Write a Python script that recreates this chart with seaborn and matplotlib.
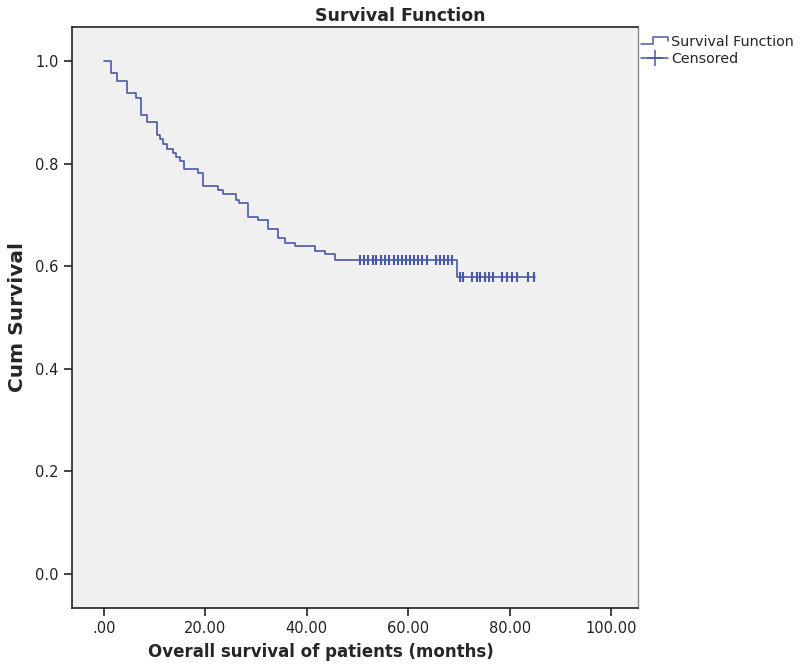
import numpy as np
import pandas as pd
import matplotlib
matplotlib.use("Agg")
import matplotlib.pyplot as plt
from matplotlib.lines import Line2D
from matplotlib.legend_handler import HandlerBase
import seaborn as sns

# --------------------
# DATA
# --------------------
event_times = [0.0, 1.3, 2.6, 4.6, 6.4, 7.3, 8.4, 10.4, 11.0, 11.7, 12.5, 13.7,
               14.3, 14.9, 15.8, 18.6, 19.6, 22.5, 23.5, 26.0, 26.7, 28.5, 30.4,
               32.4, 34.4, 35.7, 37.7, 41.6, 43.6, 45.6, 69.7, 85.0]
survival = [1.000, 0.976, 0.961, 0.937, 0.927, 0.895, 0.880, 0.856, 0.847, 0.838,
            0.828, 0.820, 0.812, 0.804, 0.789, 0.781, 0.756, 0.749, 0.740, 0.729,
            0.723, 0.696, 0.690, 0.672, 0.654, 0.646, 0.640, 0.630, 0.623, 0.612,
            0.579, 0.579]
censored_times = [50.5, 51.3, 52.1, 53.0, 53.7, 54.6, 55.5, 56.3, 57.1, 57.9, 58.7,
                  59.5, 60.4, 61.1, 61.9, 62.8, 63.6, 65.5, 66.3, 67.1, 67.9, 68.6,
                  70.2, 70.8, 72.5, 73.5, 74.2, 75.1, 75.9, 76.8, 78.5, 79.4, 80.5,
                  81.5, 83.7, 84.7]
x_ticks = [0, 20, 40, 60, 80, 100]
x_tick_labels = [".00", "20.00", "40.00", "60.00", "80.00", "100.00"]
y_ticks = [0.0, 0.2, 0.4, 0.6, 0.8, 1.0]

curve = pd.DataFrame({"time": event_times, "surv": survival})
# survival at each censored time = value of the step curve at that time
idx = np.searchsorted(event_times, censored_times, side="right") - 1
cens = pd.DataFrame({"time": censored_times,
                     "surv": [survival[i] for i in idx]})

line_color = "#4a58a8"


class HandlerStep(HandlerBase):
    def create_artists(self, legend, orig_handle, xdescent, ydescent,
                       width, height, fontsize, trans):
        x0, y0 = -xdescent, -ydescent
        xs = [x0, x0 + 0.45 * width, x0 + 0.45 * width, x0 + width, x0 + width]
        ys = [y0 + 0.2 * height, y0 + 0.2 * height, y0 + 0.85 * height,
              y0 + 0.85 * height, y0 + 0.45 * height]
        ln = Line2D(xs, ys, color=line_color, lw=1.1, transform=trans)
        return [ln]


sns.set_style("ticks")
plt.rcParams["font.family"] = ["DejaVu Sans"]

fig = plt.figure(figsize=(8, 6.67), dpi=100)
ax = fig.add_axes([0.09, 0.0885, 0.7075, 0.871])
ax.set_facecolor("#f0f0f0")

sns.lineplot(data=curve, x="time", y="surv", drawstyle="steps-post",
             estimator=None, color=line_color, lw=1.2, ax=ax)
sns.scatterplot(data=cens, x="time", y="surv", marker="|", s=60,
                color=line_color, linewidth=1.5, ax=ax, zorder=3)

ax.set_xlim(-6.3, 105.3)
ax.set_ylim(-0.066, 1.066)
ax.set_xticks(x_ticks)
ax.set_xticklabels(x_tick_labels)
ax.set_yticks(y_ticks)
ax.set_yticklabels([f"{v:.1f}" for v in y_ticks])
ax.tick_params(axis="both", direction="out", length=6, width=1.2,
               labelsize=10.5, colors="#222222")

for side in ["left", "bottom", "top"]:
    ax.spines[side].set_visible(True)
    ax.spines[side].set_color("#222222")
    ax.spines[side].set_linewidth(1.2)
ax.spines["right"].set_visible(True)
ax.spines["right"].set_color("#888888")
ax.spines["right"].set_linewidth(1.0)

ax.set_xlabel("Overall survival of patients (months)", fontsize=12,
              fontweight="bold", x=0.44, labelpad=5)
ax.set_ylabel("Cum Survival", fontsize=14.5, fontweight="bold", labelpad=6)
fig.suptitle("Survival Function", fontsize=12.5, fontweight="bold", x=0.5, y=0.99)

step_handle = Line2D([], [], color=line_color)
cens_handle = Line2D([], [], color=line_color, marker="+", markersize=12,
                     markeredgewidth=1.1, lw=1.1)
fig.legend([step_handle, cens_handle], ["Survival Function", "Censored"],
           handler_map={step_handle: HandlerStep()},
           loc="upper left", bbox_to_anchor=(0.798, 0.952), frameon=False,
           fontsize=10.3, handlelength=1.9, handletextpad=0.2, labelspacing=0.25,
           borderaxespad=0, borderpad=0.2)

plt.savefig("out.png", dpi=100)
plt.close()
